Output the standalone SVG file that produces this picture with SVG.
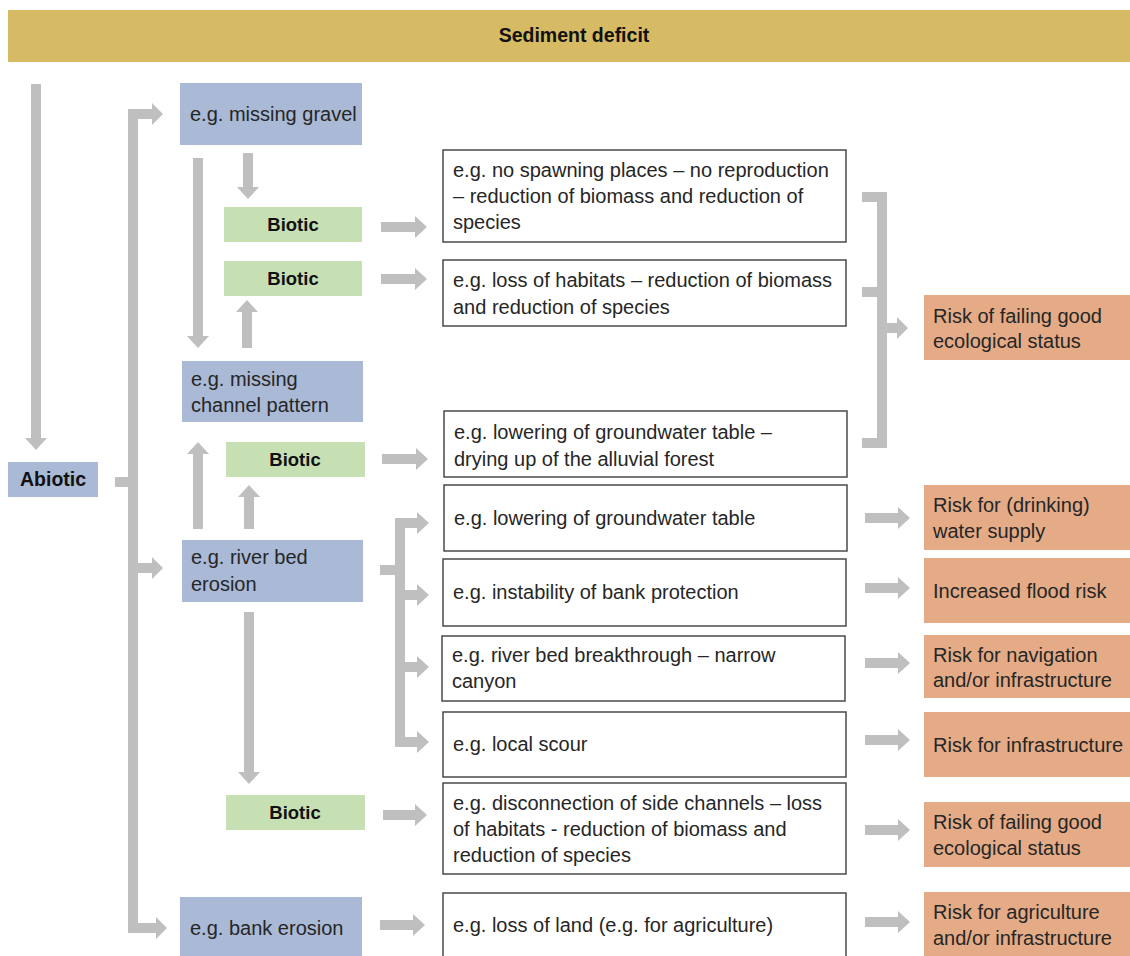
<svg xmlns="http://www.w3.org/2000/svg" width="1130" height="956" viewBox="0 0 1130 956">
<style>
.t{font-family:"Liberation Sans",Arial,sans-serif;font-size:20px;fill:#262626}
.b{font-family:"Liberation Sans",Arial,sans-serif;font-size:18.5px;font-weight:bold;fill:#111}
.blue{fill:#A9B9D6}
.green{fill:#C6E0B4}
.orange{fill:#E4AB86}
.box{fill:#fff;stroke:#4a4a4a;stroke-width:1.5}
.ar{fill:#BFBFBF}
</style>
<rect width="1130" height="956" fill="#fff"/>
<g id="header"><rect x="8" y="10" width="1122" height="52" fill="#D6BB64"/><text class="b" x="574" y="42" text-anchor="middle" style="font-size:19.5px">Sediment deficit</text></g>

<g id="connectors" class="ar">
<polygon points="31,84 41,84 41,438 47,438 36,450 25,438 31,438"/>
<rect x="128" y="109" width="10" height="824"/>
<rect x="115" y="477" width="15" height="10"/>
<polygon points="128,109 152,109 152,103 163,114 152,125 152,119 128,119"/>
<polygon points="138,563 152,563 152,557 163,568 152,579 152,573 138,573"/>
<polygon points="128,923 156,923 156,917 167,928 156,939 156,933 128,933"/>
<polygon points="243,153 253,153 253,187 259,187 248,199 237,187 243,187"/>
<polygon points="193,158 203,158 203,336 209,336 198,348 187,336 193,336"/>
<polygon points="242,348 252,348 252,312 258,312 247,300 236,312 242,312"/>
<polygon points="193,529 203,529 203,454 209,454 198,442 187,454 193,454"/>
<polygon points="244,529 254,529 254,497 260,497 249,485 238,497 244,497"/>
<polygon points="244,612 254,612 254,772 260,772 249,784 238,772 244,772"/>
<polygon points="381,222 415,222 415,216 427,227 415,238 415,232 381,232"/>
<polygon points="381,274 415,274 415,268 427,279 415,290 415,284 381,284"/>
<polygon points="382,454 416,454 416,448 428,459 416,470 416,464 382,464"/>
<polygon points="383,810 415,810 415,804 427,815 415,826 415,820 383,820"/>
<polygon points="380,920 413,920 413,914 425,925 413,936 413,930 380,930"/>
<rect x="380" y="565" width="20" height="10"/>
<rect x="395" y="518" width="10" height="229"/>
<polygon points="395,518 417,518 417,512 429,523 417,534 417,528 395,528"/>
<polygon points="395,590 417,590 417,584 429,595 417,606 417,600 395,600"/>
<polygon points="395,662 417,662 417,656 429,667 417,678 417,672 395,672"/>
<polygon points="395,737 417,737 417,731 429,742 417,753 417,747 395,747"/>
<rect x="862" y="192" width="25" height="10"/>
<rect x="877" y="192" width="10" height="256"/>
<rect x="862" y="287" width="25" height="10"/>
<rect x="862" y="438" width="25" height="10"/>
<polygon points="887,323 897,323 897,317 908,328 897,339 897,333 887,333"/>
<polygon points="865,513 898,513 898,507 910,518 898,529 898,523 865,523"/>
<polygon points="865,583 898,583 898,577 910,588 898,599 898,593 865,593"/>
<polygon points="865,658 898,658 898,652 910,663 898,674 898,668 865,668"/>
<polygon points="865,735 898,735 898,729 910,740 898,751 898,745 865,745"/>
<polygon points="865,825 898,825 898,819 910,830 898,841 898,835 865,835"/>
<polygon points="865,917 898,917 898,911 910,922 898,933 898,927 865,927"/>
</g>

<g id="abiotic"><rect class="blue" x="8" y="462" width="90" height="35"/><text class="b" x="20" y="486" style="font-size:19.5px">Abiotic</text></g>
<g id="missing-gravel"><rect class="blue" x="180" y="83" width="182" height="62"/><text class="t" x="190" y="121">e.g. missing gravel</text></g>
<g id="biotic1"><rect class="green" x="224" y="207" width="138" height="35"/><text class="b" x="293" y="231" text-anchor="middle">Biotic</text></g>
<g id="biotic2"><rect class="green" x="224" y="261" width="138" height="35"/><text class="b" x="293" y="285" text-anchor="middle">Biotic</text></g>
<g id="channel-pattern"><rect class="blue" x="182" y="361" width="181" height="61"/><text class="t" x="191" y="386">e.g. missing</text><text class="t" x="191" y="412">channel pattern</text></g>
<g id="biotic3"><rect class="green" x="226" y="442" width="139" height="35"/><text class="b" x="295" y="466" text-anchor="middle">Biotic</text></g>
<g id="river-bed-erosion"><rect class="blue" x="182" y="540" width="181" height="62"/><text class="t" x="191" y="564">e.g. river bed</text><text class="t" x="191" y="591">erosion</text></g>
<g id="biotic4"><rect class="green" x="226" y="795" width="139" height="35"/><text class="b" x="295" y="819" text-anchor="middle">Biotic</text></g>
<g id="bank-erosion"><rect class="blue" x="180" y="897" width="182" height="62"/><text class="t" x="190" y="935">e.g. bank erosion</text></g>

<g id="tb1"><rect class="box" x="443" y="150" width="403" height="92"/><text class="t" x="453" y="177">e.g. no spawning places – no reproduction</text><text class="t" x="453" y="203">– reduction of biomass and reduction of</text><text class="t" x="453" y="229">species</text></g>
<g id="tb2"><rect class="box" x="443" y="260" width="403" height="66"/><text class="t" x="453" y="287">e.g. loss of habitats – reduction of biomass</text><text class="t" x="453" y="314">and reduction of species</text></g>
<g id="tb3"><rect class="box" x="444" y="411" width="403" height="66"/><text class="t" x="454" y="439">e.g. lowering of groundwater table –</text><text class="t" x="454" y="466">drying up of the alluvial forest</text></g>
<g id="tb4"><rect class="box" x="444" y="485" width="403" height="66"/><text class="t" x="454" y="525">e.g. lowering of groundwater table</text></g>
<g id="tb5"><rect class="box" x="443" y="559" width="403" height="67"/><text class="t" x="453" y="599">e.g. instability of bank protection</text></g>
<g id="tb6"><rect class="box" x="442" y="636" width="403" height="65"/><text class="t" x="452" y="662">e.g. river bed breakthrough – narrow</text><text class="t" x="452" y="688">canyon</text></g>
<g id="tb7"><rect class="box" x="443" y="712" width="403" height="65"/><text class="t" x="453" y="751">e.g. local scour</text></g>
<g id="tb8"><rect class="box" x="443" y="783" width="403" height="91"/><text class="t" x="453" y="810">e.g. disconnection of side channels – loss</text><text class="t" x="453" y="836">of habitats - reduction of biomass and</text><text class="t" x="453" y="862">reduction of species</text></g>
<g id="tb9"><rect class="box" x="443" y="893" width="403" height="70"/><text class="t" x="453" y="932">e.g. loss of land (e.g. for agriculture)</text></g>

<g id="o1"><rect class="orange" x="924" y="295" width="206" height="65"/><text class="t" x="933" y="323">Risk of failing good</text><text class="t" x="933" y="348">ecological status</text></g>
<g id="o2"><rect class="orange" x="924" y="485" width="206" height="65"/><text class="t" x="933" y="512">Risk for (drinking)</text><text class="t" x="933" y="538">water supply</text></g>
<g id="o3"><rect class="orange" x="924" y="558" width="206" height="65"/><text class="t" x="933" y="598">Increased flood risk</text></g>
<g id="o4"><rect class="orange" x="924" y="635" width="206" height="63"/><text class="t" x="933" y="662">Risk for navigation</text><text class="t" x="933" y="687">and/or infrastructure</text></g>
<g id="o5"><rect class="orange" x="924" y="712" width="206" height="65"/><text class="t" x="933" y="752">Risk for infrastructure</text></g>
<g id="o6"><rect class="orange" x="924" y="802" width="206" height="65"/><text class="t" x="933" y="829">Risk of failing good</text><text class="t" x="933" y="855">ecological status</text></g>
<g id="o7"><rect class="orange" x="924" y="892" width="206" height="70"/><text class="t" x="933" y="919">Risk for agriculture</text><text class="t" x="933" y="945">and/or infrastructure</text></g>
</svg>
